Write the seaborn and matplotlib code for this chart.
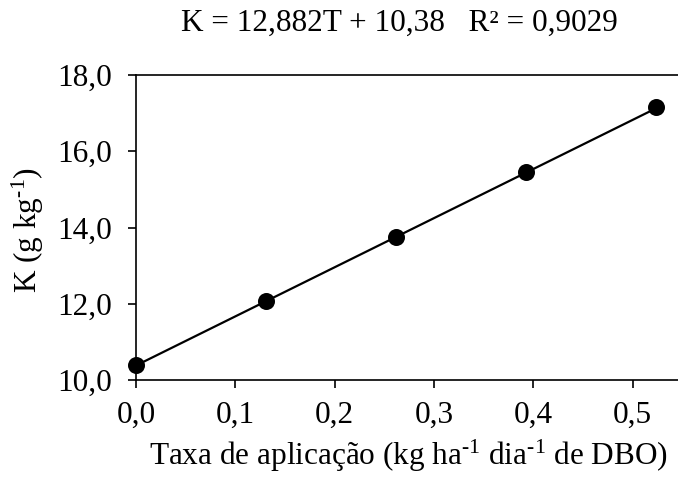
import numpy as np
import pandas as pd
import matplotlib
matplotlib.use("Agg")
import matplotlib.pyplot as plt
from matplotlib.ticker import FuncFormatter
import seaborn as sns

# Application rate (kg/ha/day of BOD) and mean K content (g/kg)
taxa = [0.0, 0.131, 0.262, 0.393, 0.524]
k_medio = [10.40, 12.08, 13.76, 15.45, 17.15]

# Fitted linear model
inclinacao = 12.882
intercepto = 10.38
r2 = 0.9029

x_ticks = [0.0, 0.1, 0.2, 0.3, 0.4, 0.5]
y_ticks = [10.0, 12.0, 14.0, 16.0, 18.0]

sns.set_theme(style="white")
plt.rcParams["font.family"] = ["Liberation Serif", "DejaVu Serif"]
plt.rcParams["mathtext.fontset"] = "custom"
plt.rcParams["mathtext.rm"] = "Liberation Serif"
plt.rcParams["mathtext.it"] = "Liberation Serif:italic"

FS = 22.5

fig = plt.figure(figsize=(6.78, 4.8), dpi=100)
ax = fig.add_axes([136 / 678, 1 - 380 / 480, 1 - 136 / 678, (380 - 75) / 480])

pontos = pd.DataFrame({"taxa": taxa, "k": k_medio})
linha_x = np.array([min(taxa), max(taxa)])
ajuste = pd.DataFrame({"taxa": linha_x, "k": inclinacao * linha_x + intercepto})

sns.lineplot(data=ajuste, x="taxa", y="k", ax=ax, color="black", linewidth=1.6,
             zorder=2)
sns.scatterplot(data=pontos, x="taxa", y="k", ax=ax, color="black", s=150,
                edgecolor="black", linewidth=0, zorder=3, clip_on=False)

ax.set_xlim(0, 0.5458)
ax.set_ylim(10, 18)
ax.set_xticks(x_ticks)
ax.set_yticks(y_ticks)
virgula = FuncFormatter(lambda v, p: f"{v:.1f}".replace(".", ","))
ax.xaxis.set_major_formatter(virgula)
ax.yaxis.set_major_formatter(virgula)

for lado in ["left", "bottom", "top"]:
    ax.spines[lado].set_visible(True)
    ax.spines[lado].set_color("black")
    ax.spines[lado].set_linewidth(1.2)
ax.spines["right"].set_visible(False)

ax.tick_params(axis="both", which="major", direction="out", length=6, width=1.2,
               color="black", labelsize=FS, labelcolor="black",
               bottom=True, left=True, top=False, right=False)
ax.tick_params(axis="x", pad=9)
ax.tick_params(axis="y", pad=11)

ax.set_xlabel(r"Taxa de aplicação (kg ha$^{\text{-1}}$ dia$^{\text{-1}}$ de DBO)",
              fontsize=FS, color="black")
ax.set_ylabel(r"K (g kg$^{\text{-1}}$)", fontsize=FS, color="black")
ax.xaxis.set_label_coords(0.502, -0.19)
ax.yaxis.set_label_coords(-0.166, 0.49)

fig.text(399 / 678, 1 - 23 / 480,
         f"K = {inclinacao:.3f}T + {intercepto:.2f}   R² = {r2:.4f}".replace(".", ","),
         ha="center", va="center", fontsize=FS, color="black")

fig.savefig("out.png", dpi=100, facecolor="white")
